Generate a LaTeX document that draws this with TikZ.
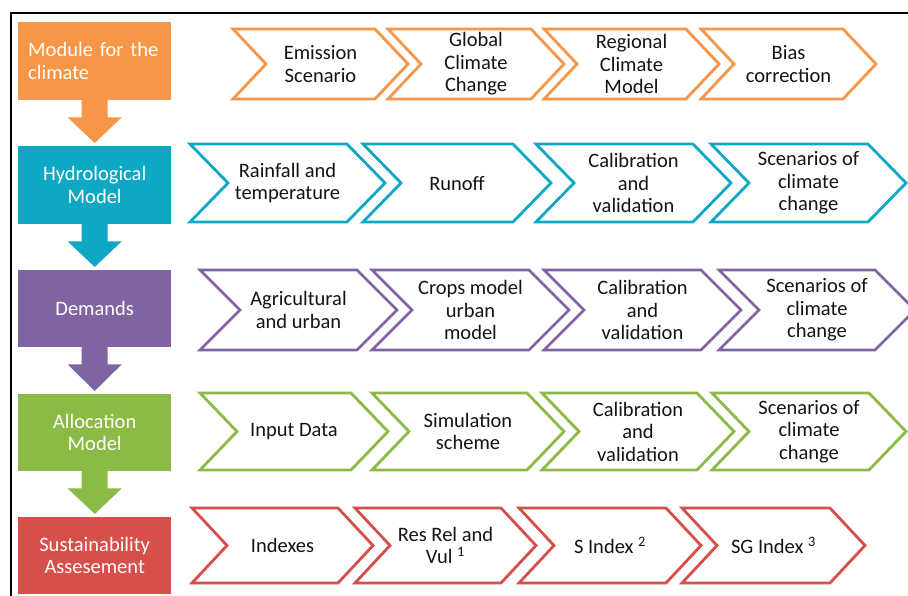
\documentclass[tikz,border=0pt]{standalone}
\usepackage{fontspec}
\setmainfont{Carlito}
\usetikzlibrary{calc}
\definecolor{corange}{HTML}{F79646}
\definecolor{cteal}{HTML}{0FA8C4}
\definecolor{cpurple}{HTML}{8064A2}
\definecolor{cgreen}{HTML}{8CBA46}
\definecolor{cred}{HTML}{D64F4B}
\tikzset{
  chevline/.style={line width=2.8pt, line join=miter, fill=white},
  chevtext/.style={align=center, inner sep=0pt, font=\fontsize{20.5}{22.5}\selectfont, text=black!92},
  lbox/.style={anchor=north west, minimum width=153pt, minimum height=78pt, inner sep=0pt,
    align=center, text=white, font=\fontsize{20.5}{22.5}\selectfont},
}
\newcommand\chv[8]{%
  \draw[chevline, draw=#6] ({#1},{#3}) -- ({#2-#5},{#3}) -- ({#2},{(#3+#4)/2}) -- ({#2-#5},{#4}) -- ({#1},{#4}) -- ({#1+#5},{(#3+#4)/2}) -- cycle;
  \node[chevtext] (#7) at ({(#1+#2)/2},{(#3+#4)/2}) {#8};}
\newcommand\barrow[3]{%
  \fill[#3] ($(#1.south)+(-13,-0.5)$) -- ($(#1.south)+(13,-0.5)$) -- ($(#1.south)+(13,17)$) -- ($(#1.south)+(27,17)$)
    -- ($(#2.north)+(0,-3)$) -- ($(#1.south)+(-27,17)$) -- ($(#1.south)+(-13,17)$) -- cycle;}
\begin{document}
\begin{tikzpicture}[x=1pt,y=-1pt]
\useasboundingbox (0,0) rectangle (908,596);
\clip (0,0) rectangle (908,596);
\fill[white] (0,0) rectangle (908,596);
\draw[line width=1.4pt] (11,610) -- (11,13) -- (920,13);

% left boxes
\node[lbox, fill=corange, text width=133pt, align=left] (m1) at (18,22) {Module for the\\climate};
\node[lbox, fill=cteal] (m2) at (18,146) {Hydrological\\Model};
\node[lbox, fill=cpurple, minimum height=77pt] (m3) at (18,270) {Demands};
\node[lbox, fill=cgreen, minimum height=77pt] (m4) at (18,394) {Allocation\\Model};
\node[lbox, fill=cred, minimum height=77pt] (m5) at (18,517) {Sustainability\\Assesement};

\barrow{m1}{m2}{corange}
\barrow{m2}{m3}{cteal}
\barrow{m3}{m4}{cpurple}
\barrow{m4}{m5}{cgreen}

% row 1
\chv{233}{408}{29}{99}{33}{corange}{a1}{Emission\\Scenario}
\chv{388}{564}{29}{99}{33}{corange}{a2}{Global\\Climate\\Change}
\chv{544}{719}{29}{99}{33}{corange}{a3}{Regional\\Climate\\Model}
\chv{701}{876}{29}{99}{33}{corange}{a4}{Bias\\correction}
% row 2
\chv{190}{385}{144}{222}{38}{cteal}{b1}{Rainfall and\\temperature}
\chv{363}{551}{144}{222}{38}{cteal}{b2}{Runoff}
\chv{536}{731}{144}{222}{38}{cteal}{b3}{Calibration\\and\\validation}
\chv{711}{906}{144}{222}{38}{cteal}{b4}{Scenarios of\\climate\\change}
% row 3
\chv{200}{397}{270}{350}{40}{cpurple}{c1}{Agricultural\\and urban}
\chv{372}{569}{270}{350}{40}{cpurple}{c2}{Crops model\\urban\\model}
\chv{544}{741}{270}{350}{40}{cpurple}{c3}{Calibration\\and\\validation}
\chv{719}{915}{270}{350}{40}{cpurple}{c4}{Scenarios of\\climate\\change}
% row 4
\chv{200}{388}{393}{470}{37}{cgreen}{d1}{Input Data}
\chv{372}{564}{393}{470}{37}{cgreen}{d2}{Simulation\\scheme}
\chv{542}{734}{393}{470}{37}{cgreen}{d3}{Calibration\\and\\validation}
\chv{712}{906}{393}{470}{37}{cgreen}{d4}{Scenarios of\\climate\\change}
% row 5
\chv{192}{373}{508}{583}{35}{cred}{e1}{Indexes}
\chv{355}{536}{508}{583}{35}{cred}{e2}{Res Rel and\\Vul \textsuperscript{1}}
\chv{519}{701}{508}{583}{35}{cred}{e3}{S Index \textsuperscript{2}}
\chv{682}{865}{508}{583}{35}{cred}{e4}{SG Index \textsuperscript{3}}
\end{tikzpicture}
\end{document}
